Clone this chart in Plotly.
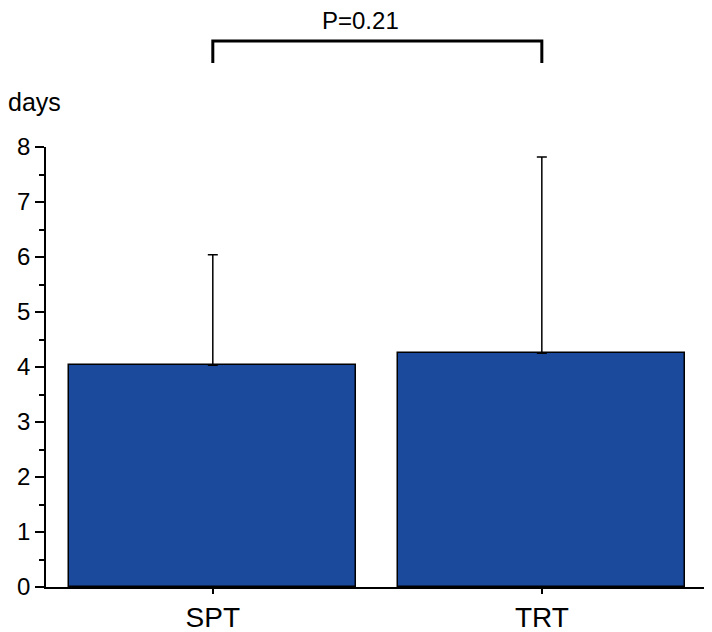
import plotly.graph_objects as go

# data
groups = ["SPT", "TRT"]
means = [4.03, 4.25]
sd_upper = [2.01, 3.57]
y_ticks = [0, 1, 2, 3, 4, 5, 6, 7, 8]
p_label = "P=0.21"
y_title = "days"

FONT = "Liberation Sans, Arial, Helvetica, sans-serif"
BAR_COLOR = "#1b4a9c"

fig = go.Figure()
fig.add_trace(go.Bar(
    x=[0, 1],
    y=means,
    width=0.872,
    marker=dict(color=BAR_COLOR, line=dict(color="black", width=1.5)),
    error_y=dict(type="data", symmetric=False, array=sd_upper,
                 arrayminus=[0, 0], color="black", thickness=1.5, width=5),
    showlegend=False,
))

# significance bracket between the two groups
fig.add_shape(type="path", xref="x", yref="paper",
              path="M 0,1.191 L 0,1.241 L 1,1.241 L 1,1.191",
              line=dict(color="black", width=3))

fig.add_annotation(x=0.45, xref="x", y=1.287, yref="paper", yanchor="middle",
                   text=p_label, showarrow=False,
                   font=dict(size=24, color="black", family=FONT))
fig.add_annotation(x=-0.06, xref="paper", xanchor="left", y=1.102, yref="paper",
                   yanchor="middle", text=y_title, showarrow=False,
                   font=dict(size=25, color="black", family=FONT))

# the page body adds a small margin, so the figure is a bit smaller than the window
fig.update_layout(
    width=704, height=624,
    margin=dict(l=38, r=5, t=139, b=45),
    plot_bgcolor="white", paper_bgcolor="white",
    font=dict(family=FONT, size=24, color="black"),
    bargap=0,
)
fig.update_xaxes(
    range=[-0.507, 1.502], tickvals=[0, 1], ticktext=groups, automargin=False,
    showline=True, linecolor="black", linewidth=1.5,
    ticks="outside", ticklen=5, tickwidth=1.5, tickcolor="black",
    showgrid=False, zeroline=False, tickfont=dict(size=28),
)
fig.update_yaxes(
    range=[0, 8], tickvals=y_ticks, automargin=False,
    showline=True, linecolor="black", linewidth=1.5,
    ticks="outside", ticklen=9, tickwidth=1.5, tickcolor="black",
    minor=dict(dtick=0.5, ticks="outside", ticklen=5, tickwidth=1.5, tickcolor="black", showgrid=False),
    showgrid=False, zeroline=False, tickfont=dict(size=24),
)

fig.write_html("out.html")
